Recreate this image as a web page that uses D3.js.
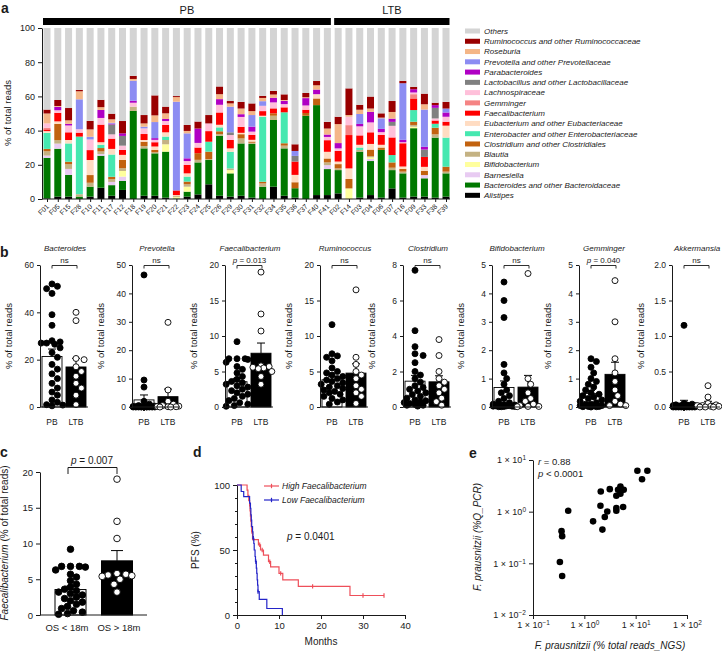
<!DOCTYPE html>
<html>
<head>
<meta charset="utf-8">
<script src="https://cdn.jsdelivr.net/npm/d3@7"></script>
<style>
  body { margin: 0; background: #fff; }
  svg text { font-family: "Liberation Sans", Arial, Helvetica, sans-serif; fill: #1a1a1a; }
  .ax path, .ax line { stroke: #1a1a1a; stroke-width: 1; }
</style>
</head>
<body>
<svg id="fig" width="722" height="652"></svg>
<script>
// ---------------- data ----------------
var pbSamples = ["F01","F05","F15","F28","F10","F11","F17","F12","F18","F19","F20","F21","F22","F23","F24","F25","F26","F29","F30","F31","F32","F34","F35","F36","F37","F40","F41"];
var ltbSamples = ["F02","F14","F03","F04","F06","F07","F16","F09","F33","F38","F39"];
var samples = pbSamples.concat(ltbSamples);

// stacking order, bottom to top
var taxa = ["Alistipes","Bacteroides and other Bacteroidaceae","Barnesiella","Bifidobacterium","Blautia",
  "Clostridium and other Clostridiales","Enterobacter and other Enterobacteriaceae","Eubacterium and other Eubacteriaceae",
  "Faecalibacterium","Gemminger","Lachnospiraceae","Lactobacillus and other Lactobacillaceae","Parabacteroides",
  "Prevotella and other Prevotellaceae","Roseburia","Ruminococcus and other Ruminococcaceae","Others"];
var taxaColors = ["#000000","#007800","#e8cbf2","#ffff9e","#c4b283","#c2620f","#46e8b0","#ffdcc2",
  "#ff0000","#f58484","#ffc0da","#808080","#b000c4","#8c8cf2","#f4b687","#990000","#d4d4d4"];

var alistipes        = [0.3,1.4,1.4,0,1.4, 6.6,1.9,5.3,0,1.9, 1.9,0.8,0,1.4,2.7, 8.6,1.9,1.4,1.9,0.8, 0,7.2,1.9,0.8,0, 2.3,2.3,3.3,0,0.8, 2.3,0.8,6.2,0.8,1.4, 1.4,0.8,1.4];
var bacteroidaceae   = [23.8,28,12.7,1.4,5.8, 18.7,6.2,5.3,51.5,27.7, 24.8,26.9,0.3,2.9,18.7, 14.2,35.1,13.6,30.6,31.4, 7.2,39,27.7,5.5,48.7, 52.6,15.2,13.6,0,26.9, 19.9,27.9,10.7,14.2,40, 10.7,35.1,13.6];
var barnesiella      = [1.3,3,3.5,0,0, 1,1.9,2.5,0,0, 0,0,0,0,0, 0,0,0,0,0, 0,0,0,0,0, 0,2.3,0,0,0, 1.2,0,0,0,0, 1.9,0,0];
var bifidobacterium  = [0,0,0,0,0, 0,0,3.3,0,0, 0,4.3,0.8,2.9,0, 0,0,1.9,0,0, 0,0,0,0,0, 0,0,0,6.2,0, 1,0,0,0,0.9, 0,0,0];
var blautia          = [2.5,2,2.7,1.4,2.3, 1.5,1.6,1.6,2.5,1.4, 0.6,2.5,0.6,1.4,1.5, 0.6,1,1,2.9,0.7, 1.9,2.5,1.6,0,0, 0,1.6,1,0,1, 0.6,0,1.4,1,1, 0,1.9,1];
var clostridiales    = [1.4,9.5,1.5,0,4.5, 2,1.4,4.9,0,2.5, 1.4,0,0,1.6,3.9, 4.3,1.6,0,2.5,0.7, 1,1.4,1.4,3.5,1.6, 3.9,2.3,2.5,5.5,0, 3.9,1.4,3.1,1.6,1.9, 2.5,3.9,2.9];
var enterobacteriaceae = [9.4,0,10.7,33.7,0, 1.9,13,0,0,0, 0,2,0,2.9,0, 5.8,2.3,9.7,0,0, 38,0,18.1,0,0, 0,0,0,0,1.4, 0,0,4.3,0,6.8, 0,2.3,17];
var eubacteriaceae   = [1,1.5,2,0,8.8, 1.5,3.3,2.9,0,1, 2,2.5,0.6,1.9,0, 0,1.5,2,0.8,1, 0.6,0,0,4.3,0, 2.5,3.9,1.5,6.2,1.6, 3.3,1.6,0,1.4,0, 2.3,0,7];
var faecalibacterium = [1,5,4.5,2.3,5.8, 10.3,6,2.9,0,3.5, 2.5,4.3,2.7,4.9,3.3, 6.2,7.2,4.9,3.5,2.9, 2.7,2.9,2.9,7.8,1.9, 0,6.8,6.2,19.5,5.5, 6.8,5.8,10.3,13.6,6.8, 5.8,1.9,2.3];
var gemminger        = [1,0,0,0,0, 0,0,0,0,0, 0,0,0,0,0, 0,0,0,0,0, 0,0,0,0,0, 0,0,0,5.8,0, 0,0,0,0,2.5, 0,0,0];
var lachnospiraceae  = [2.5,1.5,4,2,6.2, 3.9,2.5,2.5,2.3,3.3, 1.4,2.3,0,2.3,2.7, 4.5,4.5,2.9,5.8,1.9, 3.1,3.5,1.9,0,2.5, 0,1.9,1.5,4.9,5.3, 5.8,1.6,6.8,0.6,1, 0,1.2,2.9];
var lactobacillaceae = [0,0,0,0,0, 0,5.8,5.7,0,0, 0,0,0,0,0, 0,0,1.6,0,0, 0,0,0,3.3,0, 0,0,0,0,0, 0,0,2.3,0,0, 4.3,6.2,0];
var parabacteroides  = [0,2,1,0,0, 4.7,0.5,1.5,1.2,0, 1,1.2,0,1.6,8.4, 0,3.3,0,1.6,2.9, 0,2.7,1.9,0,4.3, 2.7,1.4,3.1,0,1.4, 6.2,1.9,1.9,1.4,1.9, 1.6,1.6,2.5];
var prevotellaceae   = [0,0,0,17.5,1.6, 0,0.5,0,11.7,1, 9.4,0,51.9,14.6,0, 0,0,15,0,6.8, 2.7,0,0,2.9,0, 0,0,0,0,5.8, 0,6.2,0,33.1,0, 21.8,0,2.3];
var roseburia        = [5.8,0.5,2,4.7,4.3, 1.6,2,0,1,1.9, 3.9,3.3,2.7,1.4,0, 0,2.9,1.9,3.3,2.3, 1.9,1.9,0.5,0,0.5, 2.5,3.5,11.1,1,2.5, 1.9,0.4,3.9,0,0, 3.1,0,0];
var ruminococcaceae  = [2.3,3.5,7.2,0.8,5, 4.3,3.3,7.2,1.8,4.9, 11.7,3.9,0.6,3.5,4.1, 4.9,4.5,1.4,3.9,4.5, 1.2,2.1,3.3,3.9,2.5, 2.5,3.9,4.3,15.6,2.9, 7,2.5,6.4,1.4,1.4, 6.2,1.4,3.9];
var taxaValues = [alistipes, bacteroidaceae, barnesiella, bifidobacterium, blautia, clostridiales, enterobacteriaceae,
  eubacteriaceae, faecalibacterium, gemminger, lachnospiraceae, lactobacillaceae, parabacteroides, prevotellaceae,
  roseburia, ruminococcaceae];

// panel b: % of total reads per patient
var bacteroidesPB  = [52,51,50,48,39,34.5,28,27.5,27,27,26.5,25,23,21,18,16,14,12,10,8,6.3,5,3,2,1,0.8,0.5];
var bacteroidesLTB = [40,36.5,20.5,20,17,15,13,10,8,5,1];
var prevotellaPB   = [46.5,9.5,7,2,1,0.5,0.3,0.2,0.1,0.1,0.1,0.05,0.05,0,0,0,0,0,0,0,0,0,0,0,0,0,0];
var prevotellaLTB  = [29.8,6,2,1,0.5,0.3,0.2,0.1,0.1,0,0];
var faecalPB       = [9.2,6.8,6.8,6.8,6.7,6.3,5.7,5.3,4.8,4.3,3.9,3.6,3.4,3.2,3.0,2.8,2.5,2.3,2.0,1.8,1.5,1.2,0.9,0.6,0.4,0.2,0.1];
var faecalLTB      = [19,13.1,10.7,5.8,5.7,5.6,5.5,5.4,5.0,4.3,3.2];
var ruminococcusPB = [11.6,7.5,7.2,7.0,6.5,5.5,5.0,4.8,4.5,4.3,4.0,3.8,3.6,3.4,3.2,3.0,2.8,2.6,2.4,2.2,2.0,1.8,1.5,1.2,1.0,0.7,0.4];
var ruminococcusLTB = [16.5,7,6,5,4.5,4,3,2.5,2,1.5,0.5];
var clostridiumPB  = [7.7,4.3,3.4,3.0,2.9,2.5,2.0,1.8,1.6,1.4,1.2,1.1,1.0,0.9,0.8,0.7,0.6,0.5,0.4,0.35,0.3,0.25,0.2,0.15,0.1,0.1,0.05];
var clostridiumLTB = [3.8,2.9,2.0,1.6,1.4,1.2,1.0,0.8,0.5,0.3,0.1];
var bifidoPB       = [4.4,3.75,3.15,1.5,1.2,1.0,0.8,0.6,0.5,0.4,0.3,0.2,0.15,0.1,0.08,0.07,0.06,0.05,0.05,0.04,0.04,0.03,0.03,0.02,0.02,0.01,0.01];
var bifidoLTB      = [4.7,1.0,0.8,0.5,0.3,0.2,0.1,0.05,0.02,0.02,0.01];
var gemmingerPB    = [1.7,1.6,1.4,1.2,1.0,0.9,0.8,0.7,0.6,0.5,0.45,0.4,0.35,0.3,0.25,0.2,0.15,0.1,0.1,0.05,0.05,0.05,0.02,0.02,0.01,0.01,0];
var gemmingerLTB   = [4.45,3.0,1.7,1.2,0.9,0.6,0.4,0.2,0.1,0.05,0.05];
var akkermansiaPB  = [1.15,0.05,0.04,0.03,0.03,0.02,0.02,0.02,0.01,0.01,0.01,0.01,0.01,0,0,0,0,0,0,0,0,0,0,0,0,0,0];
var akkermansiaLTB = [0.3,0.14,0.05,0.03,0.02,0.02,0.01,0.01,0,0,0];

var bTitles = ["Bacteroides","Prevotella","Faecalibacterium","Ruminococcus","Clostridium","Bifidobacterium","Gemminger","Akkermansia"];
var bMax    = [60, 50, 20, 20, 8, 5, 5, 2];
var bStep   = [20, 10, 5, 5, 2, 1, 1, 0.5];
var bTests  = ["ns","ns","p = 0.013","ns","ns","ns","p = 0.040","ns"];
var bPB  = [bacteroidesPB, prevotellaPB, faecalPB, ruminococcusPB, clostridiumPB, bifidoPB, gemmingerPB, akkermansiaPB];
var bLTB = [bacteroidesLTB, prevotellaLTB, faecalLTB, ruminococcusLTB, clostridiumLTB, bifidoLTB, gemmingerLTB, akkermansiaLTB];

// panel d: Kaplan-Meier steps [months, PFS %]
var kmHigh = [[0,100],[2.4,96],[2.6,92],[2.8,88],[3.0,84],[3.1,80],[3.2,76],[3.3,72],[3.4,68],[3.5,64],[3.7,58],
  [5.1,54],[5.6,50],[6.3,46],[7.5,41],[8.0,37],[10,32],[10.9,27],[14.6,22],[26.9,15]];
var kmHighEnd = 35;
var kmHighCensor = [3.6, 5.4, 6.0, 7.8, 10.4, 18, 30, 35];
var kmLow = [[0,100],[1.0,95],[1.6,91],[3.0,86],[3.2,82],[3.3,77],[3.4,73],[3.5,68],[3.7,64],[3.8,59],[4.0,55],
  [4.1,50],[4.3,45],[4.4,41],[4.6,36],[4.7,32],[4.8,27],[4.9,23],[5.0,18],[5.3,12],[7.1,5],[10.8,0]];
var kmLowCensor = [3.9, 4.5, 5.0];

// panel e: F. prausnitzii NGS (% reads) vs qPCR
var ngs = [10.8,16.9,13.3,2.09,3.13,4.54,5.05,5.85,4.2,5.05,2.06,4.2,5.7,4.2,2.8,2.5,1.48,2.25,0.485,0.36,0.37,0.334,0.37];
var qpcr = [6.2,6.2,4.25,2.46,2.73,2.65,3.07,2.65,2.03,2.22,1.3,1.18,1.23,1.04,1.01,0.79,0.65,0.45,1.04,0.42,0.336,0.106,0.057];

// ---------------- drawing ----------------
var svg = d3.select("#fig");
var ink = "#1a1a1a";

function panelLabel(t, x, y) {
  svg.append("text").attr("x", x).attr("y", y).style("font-size", "14px").style("font-weight", "bold").text(t);
}

function pLabel(g, str, x, y, size) {
  var t = g.append("text").attr("x", x).attr("y", y).attr("text-anchor", "middle").style("font-size", size + "px");
  if (str.indexOf("p ") === 0) {
    t.append("tspan").style("font-style", "italic").text("p");
    t.append("tspan").text(str.slice(1));
  } else t.text(str);
  return t;
}

// simple beeswarm: offsets so dots do not pile on each other
function swarm(vals, y, r, maxOff) {
  var pts = vals.map(function(v, i) { return {i: i, v: v, y: y(v)}; })
    .sort(function(a, b) { return a.y - b.y; });
  var placed = [];
  pts.forEach(function(p) {
    var best = 0, bestD = -1;
    for (var k = 0; k * r * 0.9 <= maxOff; k++) {
      var cands = k === 0 ? [0] : [k * r * 0.9, -k * r * 0.9];
      for (var c = 0; c < cands.length; c++) {
        var md = Infinity;
        placed.forEach(function(q) {
          var d = Math.hypot(q.dx - cands[c], q.y - p.y);
          if (d < md) md = d;
        });
        if (md >= 2 * r * 0.95) { best = cands[c]; bestD = Infinity; break; }
        if (md > bestD) { bestD = md; best = cands[c]; }
      }
      if (bestD === Infinity) break;
    }
    p.dx = best;
    placed.push(p);
  });
  return placed;
}

function styleAxis(g, size) {
  g.attr("class", "ax").attr("font-size", size).attr("font-family", null);
}

// ===== panel a =====
panelLabel("a", 1, 13);
var ay = d3.scaleLinear().domain([0, 100]).range([199, 28]);
var ax = d3.scalePoint().domain(samples).range([47, 446]);
var barW = 7;

var rows = samples.map(function(s, i) {
  var r = {sample: s}, tot = 0;
  taxaValues.forEach(function(arr, k) { r[taxa[k]] = arr[i]; tot += arr[i]; });
  r["Others"] = 100 - tot;
  return r;
});
var series = d3.stack().keys(taxa)(rows);

var ga = svg.append("g");
ga.selectAll("g.layer").data(series).enter().append("g")
  .attr("fill", function(d, i) { return taxaColors[i]; })
  .selectAll("rect").data(function(d) { return d; }).enter().append("rect")
  .attr("x", function(d) { return ax(d.data.sample) - barW / 2; })
  .attr("y", function(d) { return ay(d[1]); })
  .attr("width", barW)
  .attr("height", function(d) { return Math.max(0, ay(d[0]) - ay(d[1])); });

ga.append("g").attr("transform", "translate(42,0)")
  .call(d3.axisLeft(ay).tickValues([0, 20, 40, 60, 80, 100]).tickSize(4).tickSizeOuter(0))
  .call(styleAxis, 9);

var gx = ga.append("g").attr("transform", "translate(0,199)")
  .call(d3.axisBottom(ax).tickSize(3).tickSizeOuter(0))
  .call(styleAxis, 7);
gx.select(".domain").remove();
gx.append("line").attr("x1", 42).attr("x2", 450).attr("stroke", ink);
gx.selectAll(".tick text")
  .attr("text-anchor", "end").attr("y", 0).attr("dy", 0)
  .attr("transform", "translate(2,8) rotate(-45)");

ga.append("text").attr("transform", "translate(11,113) rotate(-90)").attr("text-anchor", "middle")
  .style("font-size", "9.5px").text("% of total reads");

// group bars above the stack
[[pbSamples, "PB"], [ltbSamples, "LTB"]].forEach(function(g) {
  var x1 = ax(g[0][0]) - 4, x2 = ax(g[0][g[0].length - 1]) + 3.5;
  ga.append("rect").attr("x", x1).attr("y", 18).attr("width", x2 - x1).attr("height", 7).attr("fill", "#000");
  ga.append("text").attr("x", (x1 + x2) / 2).attr("y", 13.5).attr("text-anchor", "middle")
    .style("font-size", "11px").text(g[1]);
});

// legend, top to bottom
var legendOrder = taxa.slice().reverse();
legendOrder.forEach(function(t, i) {
  var y = 31 + i * 10.27;
  var k = taxa.indexOf(t);
  ga.append("rect").attr("x", 465).attr("y", y - 2.5).attr("width", 15).attr("height", 5).attr("fill", taxaColors[k]);
  ga.append("text").attr("x", 484).attr("y", y + 2.8).style("font-size", "8px").style("font-style", "italic").text(t);
});

// ===== panel b =====
panelLabel("b", 0, 257);
var bLeft = [40, 132, 225, 320, 403, 492, 579, 672];
var bTop = 265, bBase = 407;

bTitles.forEach(function(title, i) {
  var x0 = bLeft[i];
  var y = d3.scaleLinear().domain([0, bMax[i]]).range([bBase, bTop]);
  var g = svg.append("g");
  var fmt = bStep[i] < 1 ? d3.format(".1f") : d3.format("d");

  var groups = [
    {vals: bPB[i], cx: x0 + 12, bar: "#fff", dot: "#000", label: "PB"},
    {vals: bLTB[i], cx: x0 + 36, bar: "#000", dot: "#fff", label: "LTB"}
  ];
  groups.forEach(function(gr) {
    var m = d3.mean(gr.vals), sem = d3.deviation(gr.vals) / Math.sqrt(gr.vals.length);
    g.append("rect").attr("x", gr.cx - 10).attr("y", y(m)).attr("width", 20).attr("height", bBase - y(m))
      .attr("fill", gr.bar).attr("stroke", "#000").attr("stroke-width", 0.9);
    g.append("line").attr("x1", gr.cx).attr("x2", gr.cx).attr("y1", y(m)).attr("y2", y(m + sem)).attr("stroke", "#000");
    g.append("line").attr("x1", gr.cx - 4).attr("x2", gr.cx + 4).attr("y1", y(m + sem)).attr("y2", y(m + sem)).attr("stroke", "#000");
    swarm(gr.vals, y, 3, 11).forEach(function(p) {
      g.append("circle").attr("cx", gr.cx + p.dx).attr("cy", p.y).attr("r", 3)
        .attr("fill", gr.dot).attr("stroke", "#000").attr("stroke-width", 0.9);
    });
    g.append("text").attr("x", gr.cx).attr("y", 425).attr("text-anchor", "middle").style("font-size", "8.5px").text(gr.label);
  });

  g.append("g").attr("transform", "translate(" + x0 + ",0)")
    .call(d3.axisLeft(y).tickValues(d3.range(0, bMax[i] + bStep[i] / 2, bStep[i])).tickSize(3).tickSizeOuter(0).tickFormat(fmt))
    .call(styleAxis, 8.5);
  g.append("line").attr("x1", x0).attr("x2", x0 + 48).attr("y1", bBase).attr("y2", bBase).attr("stroke", ink);

  g.append("text").attr("x", x0 + 25).attr("y", 251).attr("text-anchor", "middle")
    .style("font-size", "8px").style("font-style", "italic").text(title);
  g.append("path").attr("d", "M" + (x0 + 12) + "," + 268.5 + "V265.5H" + (x0 + 37) + "V268.5")
    .attr("fill", "none").attr("stroke", ink).attr("stroke-width", 0.9);
  pLabel(g, bTests[i], x0 + 24.5, 262.5, 8);

  g.append("text").attr("transform", "translate(" + (x0 - 28) + ",336) rotate(-90)").attr("text-anchor", "middle")
    .style("font-size", "9.5px").text("% of total reads");
});

// ===== panel c =====
panelLabel("c", 0, 457);
var cy = d3.scaleLinear().domain([0, 20]).range([615, 472]);
var gc = svg.append("g");
[{vals: faecalPB, cx: 70.5, bar: "#fff", dot: "#000", label: "OS < 18m", lx: 67},
 {vals: faecalLTB, cx: 117, bar: "#000", dot: "#fff", label: "OS > 18m", lx: 119}].forEach(function(gr) {
  var m = d3.mean(gr.vals), sem = d3.deviation(gr.vals) / Math.sqrt(gr.vals.length);
  gc.append("rect").attr("x", gr.cx - 15.5).attr("y", cy(m)).attr("width", 31).attr("height", 615 - cy(m))
    .attr("fill", gr.bar).attr("stroke", "#000").attr("stroke-width", 1);
  gc.append("line").attr("x1", gr.cx).attr("x2", gr.cx).attr("y1", cy(m)).attr("y2", cy(m + sem)).attr("stroke", "#000");
  gc.append("line").attr("x1", gr.cx - 6).attr("x2", gr.cx + 6).attr("y1", cy(m + sem)).attr("y2", cy(m + sem)).attr("stroke", "#000");
  swarm(gr.vals, cy, 3.3, 15).forEach(function(p) {
    gc.append("circle").attr("cx", gr.cx + p.dx).attr("cy", p.y).attr("r", 3.3)
      .attr("fill", gr.dot).attr("stroke", "#000").attr("stroke-width", 0.9);
  });
  gc.append("text").attr("x", gr.lx).attr("y", 631).attr("text-anchor", "middle").style("font-size", "9.5px").text(gr.label);
});
gc.append("g").attr("transform", "translate(40,0)")
  .call(d3.axisLeft(cy).tickValues([0, 5, 10, 15, 20]).tickSize(4).tickSizeOuter(0))
  .call(styleAxis, 9.5);
gc.append("line").attr("x1", 40).attr("x2", 147).attr("y1", 615).attr("y2", 615).attr("stroke", ink);
gc.append("path").attr("d", "M68,474V467.5H117V474").attr("fill", "none").attr("stroke", ink);
pLabel(gc, "p = 0.007", 92, 464, 10);
var cyl = gc.append("text").attr("transform", "translate(8,543) rotate(-90)").attr("text-anchor", "middle").style("font-size", "10px");
cyl.append("tspan").style("font-style", "italic").text("Faecalibacterium");
cyl.append("tspan").text(" (% of total reads)");

// ===== panel d =====
panelLabel("d", 193, 457);
var dx = d3.scaleLinear().domain([0, 40]).range([237, 405]);
var dy = d3.scaleLinear().domain([0, 100]).range([615, 485]);
var gd = svg.append("g");
gd.append("g").attr("transform", "translate(237,0)")
  .call(d3.axisLeft(dy).tickValues(d3.range(0, 101, 10)).tickSize(2).tickFormat(function() { return ""; }).tickSizeOuter(0))
  .call(styleAxis, 9.5);
gd.append("g").attr("transform", "translate(237,0)")
  .call(d3.axisLeft(dy).tickValues([0, 50, 100]).tickSize(4).tickSizeOuter(0))
  .call(styleAxis, 9.5);
gd.append("g").attr("transform", "translate(0,615)")
  .call(d3.axisBottom(dx).tickValues([0, 10, 20, 30, 40]).tickSize(4).tickSizeOuter(0))
  .call(styleAxis, 9.5);
gd.append("text").attr("x", 321).attr("y", 645).attr("text-anchor", "middle").style("font-size", "10px").text("Months");
gd.append("text").attr("transform", "translate(199,550) rotate(-90)").attr("text-anchor", "middle").style("font-size", "10px").text("PFS (%)");

var stepLine = d3.line().x(function(d) { return dx(d[0]); }).y(function(d) { return dy(d[1]); }).curve(d3.curveStepAfter);
function survAt(km, t) {
  var s = km[0][1];
  km.forEach(function(p) { if (p[0] <= t) s = p[1]; });
  return s;
}
function drawKM(km, end, censor, color) {
  var pts = km.slice();
  if (end != null) pts.push([end, km[km.length - 1][1]]);
  gd.append("path").attr("d", stepLine(pts)).attr("fill", "none").attr("stroke", color).attr("stroke-width", 1.2);
  censor.forEach(function(t) {
    var yy = dy(survAt(km, t));
    gd.append("line").attr("x1", dx(t)).attr("x2", dx(t)).attr("y1", yy - 2.2).attr("y2", yy + 2.2)
      .attr("stroke", color).attr("stroke-width", 1.2);
  });
}
var redKM = "#ee4f5a", blueKM = "#2424c8";
drawKM(kmHigh, kmHighEnd, kmHighCensor, redKM);
drawKM(kmLow, null, kmLowCensor, blueKM);

[["High Faecalibacterium", redKM, 486], ["Low Faecalibacterium", blueKM, 500]].forEach(function(l) {
  gd.append("line").attr("x1", 264).attr("x2", 279).attr("y1", l[2]).attr("y2", l[2]).attr("stroke", l[1]).attr("stroke-width", 1.2);
  gd.append("line").attr("x1", 271.5).attr("x2", 271.5).attr("y1", l[2] - 2.2).attr("y2", l[2] + 2.2).attr("stroke", l[1]).attr("stroke-width", 1.2);
  gd.append("text").attr("x", 282).attr("y", l[2] + 3).style("font-size", "8.5px").style("font-style", "italic").text(l[0]);
});
var dp = gd.append("text").attr("x", 287).attr("y", 540).style("font-size", "10px");
dp.append("tspan").style("font-style", "italic").text("p");
dp.append("tspan").text(" = 0.0401");

// ===== panel e =====
panelLabel("e", 469, 458);
var ex = d3.scaleLog().domain([0.1, 100]).range([533, 687]);
var ey = d3.scaleLog().domain([0.01, 10]).range([615, 460]);
var ge = svg.append("g");
function expLabels(sel) {
  sel.selectAll(".tick text").each(function(d) {
    var e = Math.round(Math.log10(d));
    var t = d3.select(this).text("1 × 10");
    t.append("tspan").attr("dy", "-0.45em").style("font-size", "6.5px").text(e < 0 ? "\u2212" + (-e) : e);
  });
}
ge.append("g").attr("transform", "translate(533,0)")
  .call(d3.axisLeft(ey).tickValues([0.01, 0.1, 1, 10]).tickSize(4).tickSizeOuter(0))
  .call(styleAxis, 9).call(expLabels);
ge.append("g").attr("transform", "translate(0,615)")
  .call(d3.axisBottom(ex).tickValues([0.1, 1, 10, 100]).tickSize(4).tickSizeOuter(0))
  .call(styleAxis, 9).call(expLabels);
ngs.forEach(function(v, i) {
  ge.append("circle").attr("cx", ex(v)).attr("cy", ey(qpcr[i])).attr("r", 3.3).attr("fill", "#000");
});
var er = ge.append("text").attr("x", 538).attr("y", 465).style("font-size", "9.5px");
er.append("tspan").style("font-style", "italic").text("r");
er.append("tspan").text(" = 0.88");
var ep = ge.append("text").attr("x", 538).attr("y", 477).style("font-size", "9.5px");
ep.append("tspan").style("font-style", "italic").text("p");
ep.append("tspan").text(" < 0.0001");
ge.append("text").attr("x", 610).attr("y", 649).attr("text-anchor", "middle").style("font-size", "10px")
  .style("font-style", "italic").text("F. prausnitzii (% total reads_NGS)");
ge.append("text").attr("transform", "translate(481,537) rotate(-90)").attr("text-anchor", "middle").style("font-size", "10px")
  .style("font-style", "italic").text("F. prausnitzii  (%Q_PCR)");
</script>
</body>
</html>
